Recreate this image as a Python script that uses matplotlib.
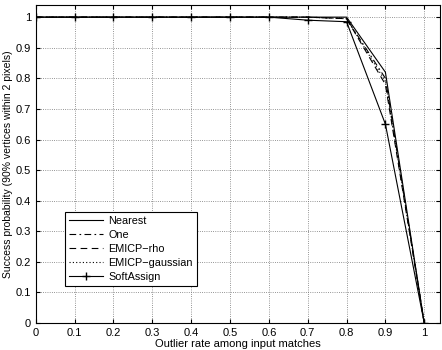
import numpy as np
import matplotlib
matplotlib.use('Agg')
import matplotlib.pyplot as plt

plt.rcParams['font.family'] = ['Liberation Sans', 'DejaVu Sans']

x = [0, 0.1, 0.2, 0.3, 0.4, 0.5, 0.6, 0.7, 0.8, 0.9, 1.0]
nearest = [1, 1, 1, 1, 1, 1, 1, 1, 1, 0.82, 0]
one = [1, 1, 1, 1, 1, 1, 1, 1, 0.995, 0.80, 0]
emicp_rho = [1, 1, 1, 1, 1, 1, 1, 1, 0.995, 0.78, 0]
emicp_gauss = [1, 1, 1, 1, 1, 1, 1, 1, 0.995, 0.79, 0]
softassign = [1, 1, 1, 1, 1, 1, 1, 0.99, 0.985, 0.65, 0]

fig = plt.figure(figsize=(4.42, 3.5), dpi=100)
ax = fig.add_axes([0.081, 0.077, 0.914, 0.909])

ax.plot(x, nearest, '-', color='k', lw=0.8, label='Nearest')
ax.plot(x, one, color='k', lw=0.8, dashes=(6, 3, 1.5, 3), label='One')
ax.plot(x, emicp_rho, color='k', lw=0.8, dashes=(6, 4), label='EMICP\u2212rho')
ax.plot(x, emicp_gauss, color='k', lw=0.8, dashes=(1, 2), label='EMICP\u2212gaussian')
ax.plot(x, softassign, '-', color='k', lw=0.8, marker='+', ms=6, label='SoftAssign')

ax.set_xlim(0, 1.04)
ax.set_ylim(0, 1.04)
ax.set_xticks(np.arange(0, 1.01, 0.1))
ax.set_yticks(np.arange(0, 1.01, 0.1))
ax.set_xticklabels(['0', '0.1', '0.2', '0.3', '0.4', '0.5', '0.6', '0.7', '0.8', '0.9', '1'])
ax.set_yticklabels(['0', '0.1', '0.2', '0.3', '0.4', '0.5', '0.6', '0.7', '0.8', '0.9', '1'])
ax.tick_params(labelsize=8, direction='in', length=3, top=True, right=True)
ax.grid(True, linestyle=':', color='0.45', lw=0.6)

ax.set_xlabel('Outlier rate among input matches', fontsize=8, labelpad=1)
ax.set_ylabel('Success probability (90% vertices within 2 pixels)', fontsize=7.5, labelpad=2)

leg = ax.legend(loc='lower left', bbox_to_anchor=(0.06, 0.1), fontsize=7.8,
                fancybox=False, edgecolor='k', framealpha=1, handlelength=3.1,
                handletextpad=0.5, borderpad=0.35, labelspacing=0.38)
leg.get_frame().set_linewidth(0.8)

plt.savefig('out.png', dpi=100)
